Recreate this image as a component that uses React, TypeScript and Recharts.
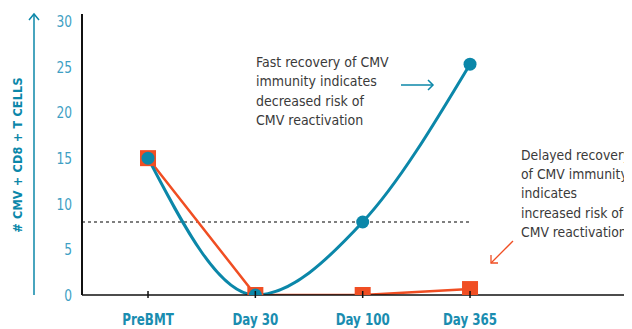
import React from "react";
import { LineChart, Line, XAxis, YAxis, ReferenceLine } from "recharts";

const categories = ["PreBMT", "Day 30", "Day 100", "Day 365"];
const fastRecovery = [15, 0, 8, 25.3];
const delayedRecovery = [15, 0, 0, 0.65];
const yTicks = [0, 5, 10, 15, 20, 25, 30];
const threshold = 8;
const yLabel = "# CMV + CD8 + T CELLS";
const fastNote = ["Fast recovery of CMV", "immunity indicates", "decreased risk of", "CMV reactivation"];
const delayedNote = ["Delayed recovery", "of CMV immunity", "indicates", "increased risk of", "CMV reactivation"];

const data = categories.map((c, i) => ({
  idx: i + 1,
  name: c,
  fast: fastRecovery[i],
  delayed: delayedRecovery[i],
}));

const TEAL = "#0b87a9";
const TEAL_LIGHT = "#3f9fc4";
const ORANGE = "#f04e23";
const FONT = "'DejaVu Sans Condensed', 'Liberation Sans Narrow', sans-serif";

const XTick = (props: any) => {
  const { x, y, payload } = props;
  const label = categories[Math.round(payload.value) - 1] ?? "";
  return (
    <g>
      <line x1={x} x2={x} y1={y - 4} y2={y + 3} stroke="#111" strokeWidth={1.5} />
      <text
        transform={`translate(${x},${y + 30}) scale(0.8,1)`}
        x={0}
        y={0}
        textAnchor="middle"
        fill="#1a8db0"
        fontFamily={FONT}
        fontWeight="bold"
        fontSize={16.5}
      >
        {label}
      </text>
    </g>
  );
};

const YTick = (props: any) => {
  const { x, y, payload } = props;
  return (
    <text
      transform={`translate(${x},${y}) scale(0.85,1)`}
      x={0}
      y={0}
      dy="0.36em"
      textAnchor="end"
      fill={TEAL_LIGHT}
      fontFamily={FONT}
      fontSize={16}
    >
      {payload.value}
    </text>
  );
};

const SquareDot = (props: any) => {
  const { cx, cy } = props;
  if (cx == null || cy == null) return null;
  return <rect x={cx - 8} y={cy - 8} width={16} height={16} fill={ORANGE} />;
};

const CircleDot = (props: any) => {
  const { cx, cy } = props;
  if (cx == null || cy == null) return null;
  return <circle cx={cx} cy={cy} r={6.5} fill={TEAL} />;
};

export default function App() {
  const ox = 8;
  const oy = 8;
  return (
    <div style={{ position: "relative", width: 624, height: 321 }}>
      <LineChart width={624} height={321} data={data} margin={{ top: 6, right: 0, bottom: 0, left: 0 }}>
        <XAxis
          type="number"
          dataKey="idx"
          domain={[0.385, 5.509]}
          allowDataOverflow
          ticks={[1, 2, 3, 4]}
          tickSize={0}
          tickMargin={0}
          tickLine={false}
          height={34}
          axisLine={{ stroke: "#111", strokeWidth: 1.5 }}
          tick={<XTick />}
        />
        <YAxis
          type="number"
          domain={[0, 30.8]}
          allowDataOverflow
          ticks={yTicks}
          width={74}
          tickSize={0}
          tickMargin={10}
          tickLine={false}
          axisLine={{ stroke: "#111", strokeWidth: 2 }}
          tick={<YTick />}
        />
        <ReferenceLine
          segment={[
            { x: 0.385, y: threshold },
            { x: 4, y: threshold },
          ]}
          stroke="#000"
          strokeWidth={1.2}
          strokeDasharray="3 3"
        />
        <Line
          type="linear"
          dataKey="delayed"
          stroke={ORANGE}
          strokeWidth={2.5}
          dot={<SquareDot />}
          activeDot={false}
          isAnimationActive={false}
        />
        <Line
          type="monotone"
          dataKey="fast"
          stroke={TEAL}
          strokeWidth={3}
          dot={<CircleDot />}
          activeDot={false}
          isAnimationActive={false}
        />
      </LineChart>
      <svg
        width={624}
        height={321}
        style={{ position: "absolute", left: 0, top: 0, pointerEvents: "none" }}
      >
        <g transform={`translate(${-ox},${-oy})`}>
          <line x1={34} y1={295} x2={34} y2={14} stroke={TEAL} strokeWidth={1.5} />
          <polyline points="29,20 34,14 39,20" fill="none" stroke={TEAL} strokeWidth={1.5} />
          <text
            x={17}
            y={155}
            transform="rotate(-90 17 155)"
            textAnchor="middle"
            dominantBaseline="central"
            fill={TEAL}
            fontFamily={FONT}
            fontWeight="bold"
            fontSize={12.5}
            letterSpacing={0.2}
          >
            {yLabel}
          </text>
          {fastNote.map((t, i) => (
            <text key={i} x={256} y={66.7 + i * 19.5} fill="#3a3a3a" fontFamily={FONT} fontSize={14}>
              {t}
            </text>
          ))}
          <line x1={401} y1={85} x2={433} y2={85} stroke={TEAL} strokeWidth={1.5} />
          <polyline points="428,80 433,85 428,90" fill="none" stroke={TEAL} strokeWidth={1.5} />
          {delayedNote.map((t, i) => (
            <text key={i} x={521} y={160 + i * 19.2} fill="#3a3a3a" fontFamily={FONT} fontSize={13.8}>
              {t}
            </text>
          ))}
          <line x1={513} y1={241} x2={491} y2={263} stroke={ORANGE} strokeWidth={1.3} />
          <polyline points="491,255 491,263 498,263" fill="none" stroke={ORANGE} strokeWidth={1.3} />
        </g>
      </svg>
    </div>
  );
}
